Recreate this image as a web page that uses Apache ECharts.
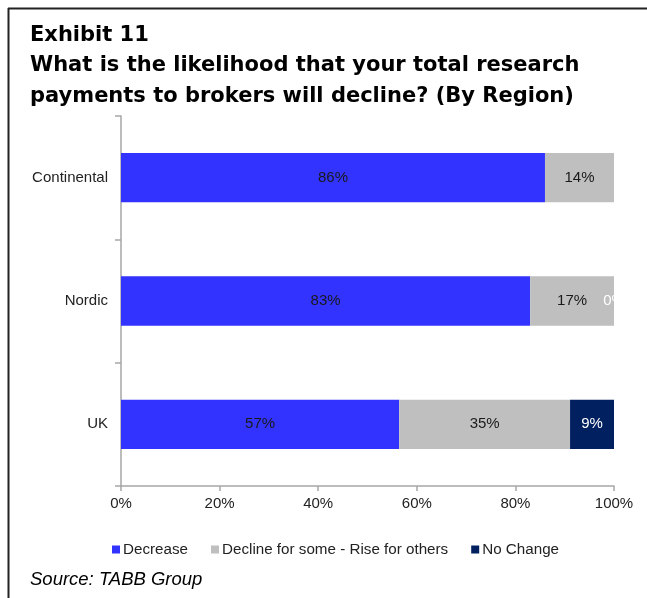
<!DOCTYPE html>
<html>
<head>
<meta charset="utf-8">
<title>Exhibit 11</title>
<script src="https://cdn.jsdelivr.net/npm/echarts@6/dist/echarts.min.js"></script>
<style>
  html, body { margin: 0; padding: 0; background: #fff; }
  #chart { width: 647px; height: 598px; }
</style>
</head>
<body>
<div id="chart"></div>
<script>
// Survey answers by region, in percent (top to bottom)
const regions = ['Continental', 'Nordic', 'UK'];
const decrease = [86, 83, 57];
const mixed = [14, 17, 35];
const noChange = [null, 0, 9];
const xTicks = ['0%', '20%', '40%', '60%', '80%', '100%'];

// Each row is drawn as a share of its own total, so rows that round to 101 still fill 100%
const totals = regions.map((_, i) => (decrease[i] || 0) + (mixed[i] || 0) + (noChange[i] || 0));
const share = (arr) => arr.map((v, i) => (v == null ? null : { value: v / totals[i] * 100, raw: v }));

const labelFmt = (p) => p.data.raw + '%';
const SANS = '"Liberation Sans", Arial, sans-serif';

const chart = echarts.init(document.getElementById('chart'), null, { renderer: 'canvas' });

chart.setOption({
  animation: false,
  backgroundColor: '#ffffff',
  textStyle: { fontFamily: SANS },
  graphic: [
    { type: 'line', shape: { x1: 8, y1: 8.5, x2: 647, y2: 8.5 }, style: { stroke: '#222', lineWidth: 2 } },
    { type: 'line', shape: { x1: 8.5, y1: 8, x2: 8.5, y2: 598 }, style: { stroke: '#222', lineWidth: 2 } },
    {
      type: 'text', left: 30, top: 20,
      style: {
        text: 'Exhibit 11\nWhat is the likelihood that your total research\npayments to brokers will decline? (By Region)',
        font: 'bold 21px "DejaVu Sans", Verdana, sans-serif',
        lineHeight: 30.5, fill: '#000'
      }
    },
    {
      type: 'text', left: 30, top: 570,
      style: { text: 'Source: TABB Group', font: 'italic 18.5px "Liberation Sans", Arial, sans-serif', fill: '#000' }
    }
  ],
  legend: {
    bottom: 36,
    left: 107,
    itemWidth: 8,
    itemHeight: 8,
    itemGap: 23,
    icon: 'rect',
    textStyle: { fontFamily: SANS, fontSize: 15.2, color: '#222', padding: [0, 0, 0, -2] },
    data: ['Decrease', 'Decline for some - Rise for others', 'No Change']
  },
  grid: { left: 121, right: 33, top: 116, bottom: 112, containLabel: false },
  xAxis: {
    type: 'value',
    min: 0, max: 100, interval: 20,
    axisLine: { show: true, lineStyle: { color: '#a6a6a6', width: 1.5 } },
    axisTick: { show: true, length: 5, lineStyle: { color: '#a6a6a6', width: 1.5 } },
    splitLine: { show: false },
    axisLabel: {
      margin: 10, fontFamily: SANS, fontSize: 15, color: '#222',
      formatter: (v) => xTicks[Math.round(v / 20)]
    }
  },
  yAxis: {
    type: 'category',
    inverse: true,
    data: regions,
    axisLine: { show: true, lineStyle: { color: '#a6a6a6', width: 1.5 } },
    axisTick: { show: true, length: 6, lineStyle: { color: '#a6a6a6', width: 1.5 } },
    axisLabel: { margin: 13, fontFamily: SANS, fontSize: 15, color: '#222' }
  },
  series: [
    {
      name: 'Decrease', type: 'bar', stack: 'total', barCategoryGap: '60%',
      itemStyle: { color: '#3333ff' },
      label: { show: true, position: 'inside', formatter: labelFmt, fontFamily: SANS, fontSize: 15, color: '#1a1a1a' },
      data: share(decrease)
    },
    {
      name: 'Decline for some - Rise for others', type: 'bar', stack: 'total', barCategoryGap: '60%',
      itemStyle: { color: '#bfbfbf' },
      label: { show: true, position: 'inside', formatter: labelFmt, fontFamily: SANS, fontSize: 15, color: '#1a1a1a' },
      data: share(mixed)
    },
    {
      name: 'No Change', type: 'bar', stack: 'total', barCategoryGap: '60%',
      itemStyle: { color: '#002060' },
      label: { show: true, position: 'inside', formatter: labelFmt, fontFamily: SANS, fontSize: 15, color: '#ffffff' },
      data: share(noChange)
    }
  ]
});
</script>
</body>
</html>
